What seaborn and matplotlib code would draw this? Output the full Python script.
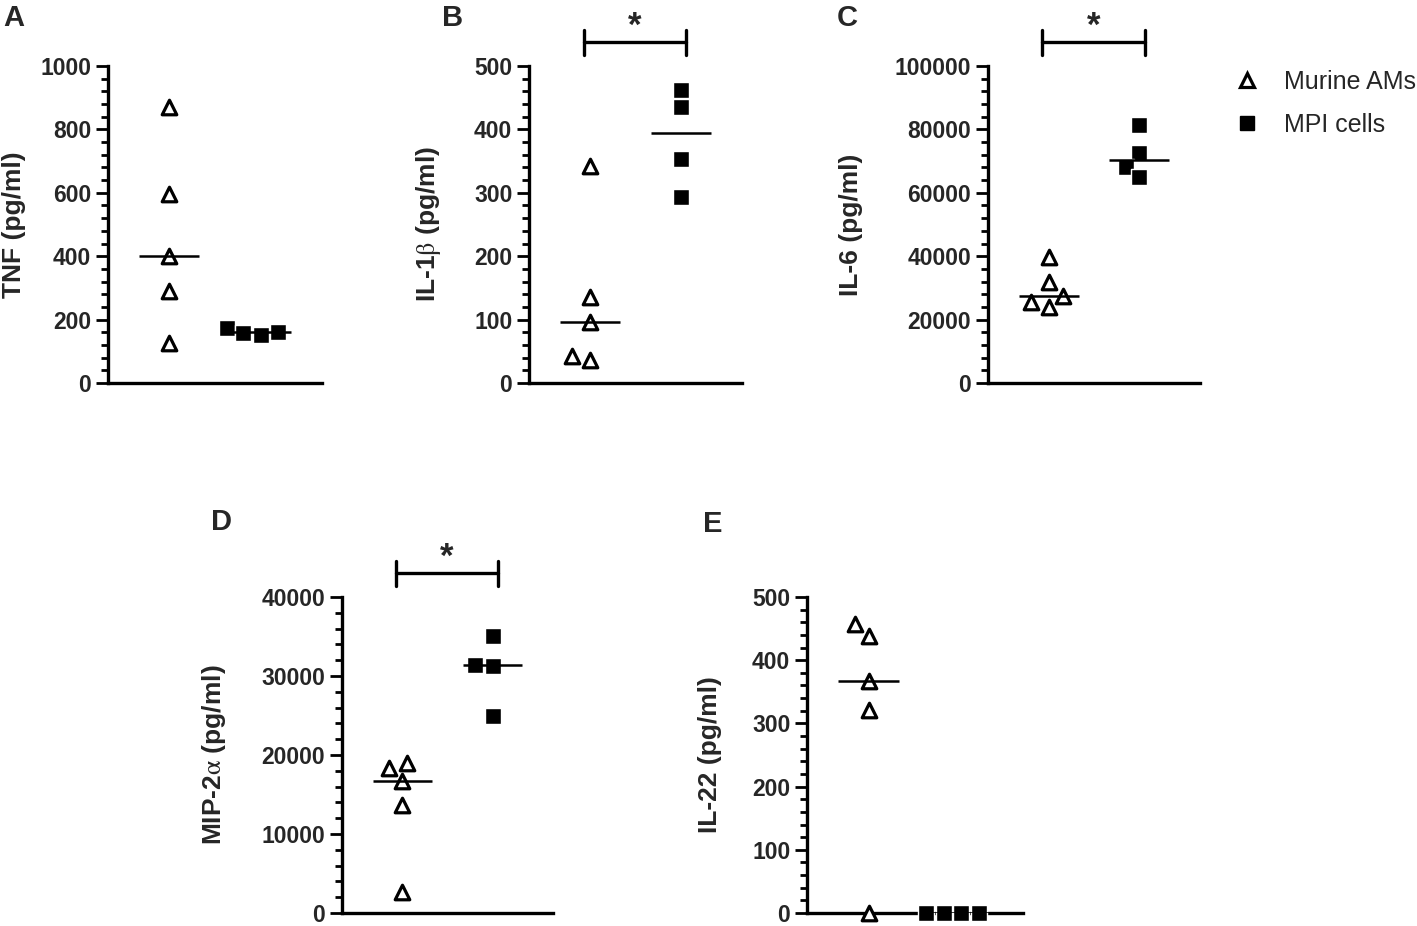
import numpy as np
import pandas as pd
import matplotlib
matplotlib.use("Agg")
import matplotlib.pyplot as plt
import seaborn as sb
from matplotlib.ticker import AutoMinorLocator
from matplotlib.lines import Line2D

# DATA
#-----------------------------------
groups = ["Murine AMs", "MPI cells"]

tnf_ams = [870, 595, 400, 290, 125]
tnf_mpi = [152, 175, 158, 162]
il1b_ams = [342, 135, 97, 37, 43]
il1b_mpi = [462, 435, 353, 293]
il6_ams = [39800, 31900, 27400, 23900, 25700]
il6_mpi = [81400, 72400, 68200, 64900]
mip2a_ams = [19000, 18300, 16700, 13700, 2600]
mip2a_mpi = [35000, 31450, 31250, 24900]
il22_ams = [458, 439, 367, 321, 0]
il22_mpi = [0, 0, 0, 0]

panel_letters = ["A", "B", "C", "D", "E"]
y_labels = ["TNF (pg/ml)", r"IL-1$\mathrm{\beta}$ (pg/ml)", "IL-6 (pg/ml)",
            r"MIP-2$\mathrm{\alpha}$ (pg/ml)", "IL-22 (pg/ml)"]
y_max = [1000, 500, 100000, 40000, 500]
y_step = [200, 100, 20000, 10000, 100]
significant = [False, True, True, True, False]

W, H = 1417, 926

# SETTINGS
#-----------------------------------
sb.set_style("ticks")
plt.rcParams["font.family"] = ["Liberation Sans", "DejaVu Sans"]
plt.rcParams["mathtext.fontset"] = "stix"

# axes boxes in pixels: left, top, right, bottom
boxes = [(108, 66, 322, 383), (529, 66, 742, 383), (988, 66, 1200, 383),
         (342, 597, 553, 913), (807, 597, 1023, 913)]
label_x = [-0.385, -0.405, -0.59, -0.54, -0.395]
letter_pos = [(3, 4), (442, 4), (837, 4), (211, 508), (703, 510)]


def draw_panel(fig, i, ams, mpi):
    l, t, r, b = boxes[i]
    ax = fig.add_axes([l / W, 1 - b / H, (r - l) / W, (b - t) / H])

    df = pd.DataFrame({"group": [groups[0]] * len(ams) + [groups[1]] * len(mpi),
                       "value": ams + mpi})
    sb.swarmplot(data=df[df.group == groups[0]], x="group", y="value", order=groups,
                 marker="^", color="white", edgecolor="black", linewidth=2.3,
                 size=10.5, ax=ax, clip_on=False, zorder=4)
    sb.swarmplot(data=df[df.group == groups[1]], x="group", y="value", order=groups,
                 marker="s", color="black", edgecolor="white", linewidth=1.0,
                 size=11, ax=ax, clip_on=False, zorder=4)

    # median lines
    for k, vals in enumerate([ams, mpi]):
        ax.hlines(np.median(vals), k - 0.33, k + 0.33, color="black", lw=1.8, zorder=5)

    ax.set_xlim(-0.67, 1.67)
    ax.set_ylim(0, y_max[i])
    ticks = np.arange(0, y_max[i] + y_step[i], y_step[i])
    ax.set_yticks(ticks)
    ax.set_yticklabels([str(int(v)) for v in ticks], fontsize=16.5, fontweight="bold")
    ax.yaxis.set_minor_locator(AutoMinorLocator(5))
    ax.tick_params(axis="y", which="major", length=8.5, width=2.0, pad=3.5, color="black")
    ax.tick_params(axis="y", which="minor", length=5, width=2.0, color="black")
    ax.set_xticks([])
    ax.set_xlabel("")
    ax.set_ylabel(y_labels[i], fontsize=19, fontweight="bold")
    ax.yaxis.set_label_coords(label_x[i], 0.5)
    sb.despine(ax=ax)
    for side in ["left", "bottom"]:
        ax.spines[side].set_linewidth(2.4)
        ax.spines[side].set_color("black")

    if significant[i]:
        tr = ax.get_xaxis_transform()
        x0, x1 = -0.07, 1.06
        ax.plot([x0, x1], [1.075, 1.075], transform=tr, color="black", lw=2.4, clip_on=False)
        ax.plot([x0, x0], [1.035, 1.115], transform=tr, color="black", lw=2.4, clip_on=False)
        ax.plot([x1, x1], [1.035, 1.115], transform=tr, color="black", lw=2.4, clip_on=False)
        ax.text((x0 + x1) / 2, 1.125, "*", transform=tr, ha="center", va="center",
                fontsize=25, fontweight="bold")

    lx, ly = letter_pos[i]
    fig.text(lx / W, 1 - ly / H, panel_letters[i], ha="left", va="top",
             fontsize=21, fontweight="bold")
    return ax


def main():
    fig = plt.figure(figsize=(W / 100, H / 100), dpi=100)
    data = [(tnf_ams, tnf_mpi), (il1b_ams, il1b_mpi), (il6_ams, il6_mpi),
            (mip2a_ams, mip2a_mpi), (il22_ams, il22_mpi)]
    for i, (ams, mpi) in enumerate(data):
        draw_panel(fig, i, ams, mpi)

    handles = [Line2D([], [], marker="^", ls="", markersize=10, markerfacecolor="white",
                      markeredgecolor="black", markeredgewidth=2.3),
               Line2D([], [], marker="s", ls="", markersize=10, color="black")]
    fig.legend(handles, groups, loc="upper left", bbox_to_anchor=(1234 / W, 1 - 70 / H),
               frameon=False, fontsize=18, handlelength=1.0, handletextpad=1.0,
               labelspacing=0.75, borderaxespad=0, borderpad=0)

    fig.savefig("out.png", dpi=100)


if __name__ == "__main__":
    main()
